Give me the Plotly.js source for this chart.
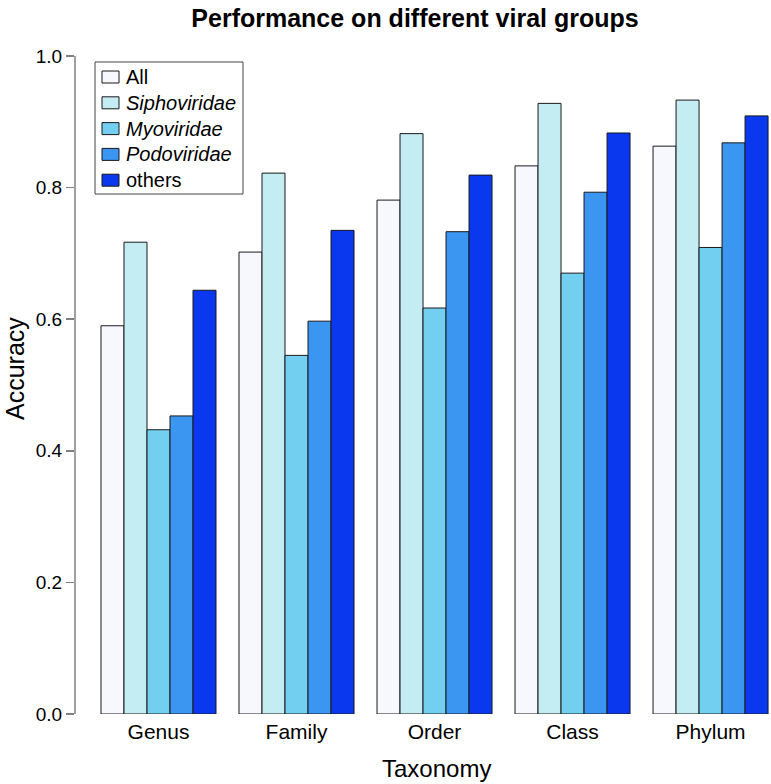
<!DOCTYPE html>
<html>
<head>
<meta charset="utf-8">
<script src="https://cdn.plot.ly/plotly-3.0.1.min.js"></script>
<style>html,body{margin:0;padding:0;background:#fff;}#chart{width:771px;height:784px;}</style>
</head>
<body>
<div id="chart"></div>
<script>
const categories = ["Genus", "Family", "Order", "Class", "Phylum"];
const seriesNames = ["All", "<i>Siphoviridae</i>", "<i>Myoviridae</i>", "<i>Podoviridae</i>", "others"];
const allVals = [0.590, 0.702, 0.781, 0.833, 0.863];
const siphoVals = [0.717, 0.822, 0.882, 0.928, 0.933];
const myoVals = [0.432, 0.545, 0.617, 0.670, 0.709];
const podoVals = [0.453, 0.597, 0.733, 0.793, 0.868];
const otherVals = [0.644, 0.735, 0.819, 0.883, 0.909];
const colors = ["#F6F8FE", "#C3ECF3", "#72CFF0", "#3A96F1", "#0A38EE"];
const yTicks = [0, 0.2, 0.4, 0.6, 0.8, 1.0];

const seriesVals = [allVals, siphoVals, myoVals, podoVals, otherVals];
const font = "Liberation Sans, Arial, Helvetica, sans-serif";

// plot area geometry in pixels (for legend placement)
const L = 75, T = 30, PW = 696, PH = 684;
const px2x = px => (px - L) / PW;
const px2y = py => (T + PH - py) / PH;

const traces = seriesVals.map((vals, i) => ({
  type: "bar",
  x: categories,
  y: vals,
  name: seriesNames[i],
  marker: {color: colors[i], line: {color: "#1a1a1a", width: 1}},
  hoverinfo: "none",
  showlegend: false
}));

// legend drawn as a box with swatches and labels
const shapes = [{
  type: "line", xref: "paper", yref: "y",
  x0: 0, x1: 0, y0: 0, y1: 1,
  line: {color: "#808080", width: 1.5}
}, {
  type: "rect", xref: "paper", yref: "paper",
  x0: px2x(95), x1: px2x(243), y0: px2y(62), y1: px2y(194),
  line: {color: "#444444", width: 1}, fillcolor: "#ffffff"
}];
const annotations = [
  {text: "Taxonomy", xref: "paper", yref: "paper", x: px2x(436), y: px2y(768),
   xanchor: "center", yanchor: "middle", showarrow: false,
   font: {family: font, size: 24, color: "#000"}},
  {text: "Accuracy", xref: "paper", yref: "paper", x: px2x(15), y: px2y(368),
   xanchor: "center", yanchor: "middle", textangle: -90, showarrow: false,
   font: {family: font, size: 25, color: "#000"}}
];
seriesNames.forEach((name, i) => {
  const cy = 77 + i * 25.8;
  shapes.push({
    type: "rect", xref: "paper", yref: "paper",
    x0: px2x(102), x1: px2x(119), y0: px2y(cy - 6), y1: px2y(cy + 6),
    line: {color: "#1a1a1a", width: 1}, fillcolor: colors[i]
  });
  annotations.push({
    text: name, xref: "paper", yref: "paper", x: px2x(124), y: px2y(cy),
    xanchor: "left", yanchor: "middle", showarrow: false,
    font: {family: font, size: 20, color: "#000"}
  });
});

const layout = {
  width: 771,
  height: 784,
  margin: {l: L, r: 771 - L - PW, t: T, b: 784 - T - PH},
  paper_bgcolor: "#ffffff",
  plot_bgcolor: "#ffffff",
  font: {family: font, color: "#000"},
  barmode: "group",
  bargap: 1/6,
  bargroupgap: 0,
  showlegend: false,
  title: {
    text: "<b>Performance on different viral groups</b>",
    font: {family: font, size: 25, color: "#000"},
    x: 415/771, xanchor: "center", xref: "container",
    y: 1 - 18/784, yanchor: "middle", yref: "container"
  },
  xaxis: {
    type: "category",
    range: [-0.605, 4.438],
    showgrid: false, zeroline: false, showline: false,
    ticks: "",
    ticklabelstandoff: 3,
    tickfont: {family: font, size: 21, color: "#000"},
    automargin: false
  },
  yaxis: {
    range: [0, PH/658],
    tickvals: yTicks,
    tickformat: ".1f",
    ticks: "outside", ticklen: 8, tickcolor: "#808080", tickwidth: 1.5,
    showgrid: false, zeroline: false, showline: false,
    tickfont: {family: font, size: 19, color: "#000"},
    automargin: false
  },
  shapes: shapes,
  annotations: annotations
};

Plotly.newPlot("chart", traces, layout, {staticPlot: true, displayModeBar: false});
</script>
</body>
</html>
